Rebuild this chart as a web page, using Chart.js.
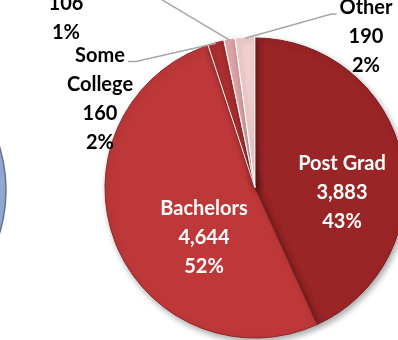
<!DOCTYPE html>
<html>
<head>
<meta charset="utf-8">
<script src="https://cdn.jsdelivr.net/npm/chart.js@4.4.0/dist/chart.umd.min.js"></script>
<style>
    html, body { margin: 0; padding: 0; background: #fff; overflow: hidden; }
    #wrap { position: relative; width: 398px; height: 340px; overflow: hidden; }
    #sidecanvas { position: absolute; left: -293px; top: 40px; }
    #piecanvas { position: absolute; left: 0; top: 0; }
</style>
</head>
<body>
<div id="wrap">
    <canvas id="sidecanvas" width="300" height="300"></canvas>
    <canvas id="piecanvas" width="398" height="340"></canvas>
</div>
<script>
// education split (clockwise from 12 o'clock)
const eduLabels = ["Post Grad", "Bachelors", "Some\nCollege", "High School", "Other"];
const eduValues = [3883, 4644, 160, 106, 190];
const eduColors = ["#9a2527", "#bf3839", "#ad2f31", "#e6a9ad", "#f2cfd1"];

// only the edge of the neighbouring pie shows on the left
const sideValues = [1];
const sideColors = ["#93a7cc"];

// where each label block sits, relative to the pie centre
const labelSpots = [
    { dx: 87,   dy: 5,    color: "#fff", leader: false },
    { dx: -51,  dy: 50,   color: "#fff", leader: false },
    { dx: -155, dy: -89,  color: "#000", leader: "right" },
    { dx: -189, dy: -184, color: "#000", leader: "right" },
    { dx: 111,  dy: -151, color: "#000", leader: "left" }
];

const lineH = 29;
const labelFont = "bold 20px Lato";

const shadowPlugin = {
    id: 'sliceShadow',
    beforeDatasetDraw(chart) {
        const ctx = chart.ctx;
        ctx.save();
        ctx.shadowColor = 'rgba(0,0,0,0.35)';
        ctx.shadowBlur = 6;
        ctx.shadowOffsetX = 2;
        ctx.shadowOffsetY = 3;
    },
    afterDatasetDraw(chart) {
        chart.ctx.restore();
    }
};

const labelPlugin = {
    id: 'sliceLabels',
    afterDatasetsDraw(chart) {
        const ctx = chart.ctx;
        const meta = chart.getDatasetMeta(0);
        const total = eduValues.reduce((a, b) => a + b, 0);
        ctx.save();
        ctx.font = labelFont;
        ctx.textAlign = 'center';
        ctx.textBaseline = 'middle';
        meta.data.forEach((arc, i) => {
            const p = arc.getProps(['x', 'y', 'startAngle', 'endAngle', 'outerRadius'], true);
            const spot = labelSpots[i];
            const lines = eduLabels[i].split('\n')
                .concat([eduValues[i].toLocaleString('en-US'), Math.round(eduValues[i] / total * 100) + '%']);
            const cx = p.x + spot.dx;
            const cy = p.y + spot.dy;
            const top = cy - (lines.length - 1) * lineH / 2;

            if (spot.leader) {
                const mid = (p.startAngle + p.endAngle) / 2;
                const ex = p.x + Math.cos(mid) * p.outerRadius;
                const ey = p.y + Math.sin(mid) * p.outerRadius;
                const w = ctx.measureText(lines[0]).width;
                const sy = top + 6;
                const sx = spot.leader === 'right' ? cx + w / 2 + 3 : cx - w / 2 - 3;
                const kx = spot.leader === 'right' ? sx + 8 : sx - 5;
                ctx.beginPath();
                ctx.strokeStyle = '#a6a6a6';
                ctx.lineWidth = 1.5;
                ctx.moveTo(sx, sy);
                ctx.lineTo(kx, sy);
                ctx.lineTo(ex, ey);
                ctx.stroke();
            }

            ctx.fillStyle = spot.color;
            lines.forEach((t, j) => ctx.fillText(t, cx, top + j * lineH));
        });
        ctx.restore();
    }
};

new Chart(document.getElementById('sidecanvas').getContext('2d'), {
    type: 'pie',
    data: {
        labels: ["side"],
        datasets: [{
            data: sideValues,
            backgroundColor: sideColors,
            borderColor: "#5f7295",
            borderWidth: 1.5,
            radius: 149
        }]
    },
    options: {
        responsive: false,
        animation: false,
        plugins: { legend: { display: false }, tooltip: { enabled: false } }
    }
});

new Chart(document.getElementById('piecanvas').getContext('2d'), {
    type: 'pie',
    data: {
        labels: eduLabels,
        datasets: [{
            data: eduValues,
            backgroundColor: eduColors,
            borderColor: ["#7d1b1d", "#8c2527", "#ffffff", "#ffffff", "#ffffff"],
            borderWidth: 1,
            offset: [0, 0, 3, 3, 3],
            radius: 150
        }]
    },
    options: {
        responsive: false,
        animation: false,
        layout: { padding: { left: 112, top: 36, right: 0, bottom: 0 } },
        plugins: { legend: { display: false }, tooltip: { enabled: false } }
    },
    plugins: [shadowPlugin, labelPlugin]
});
</script>
</body>
</html>
